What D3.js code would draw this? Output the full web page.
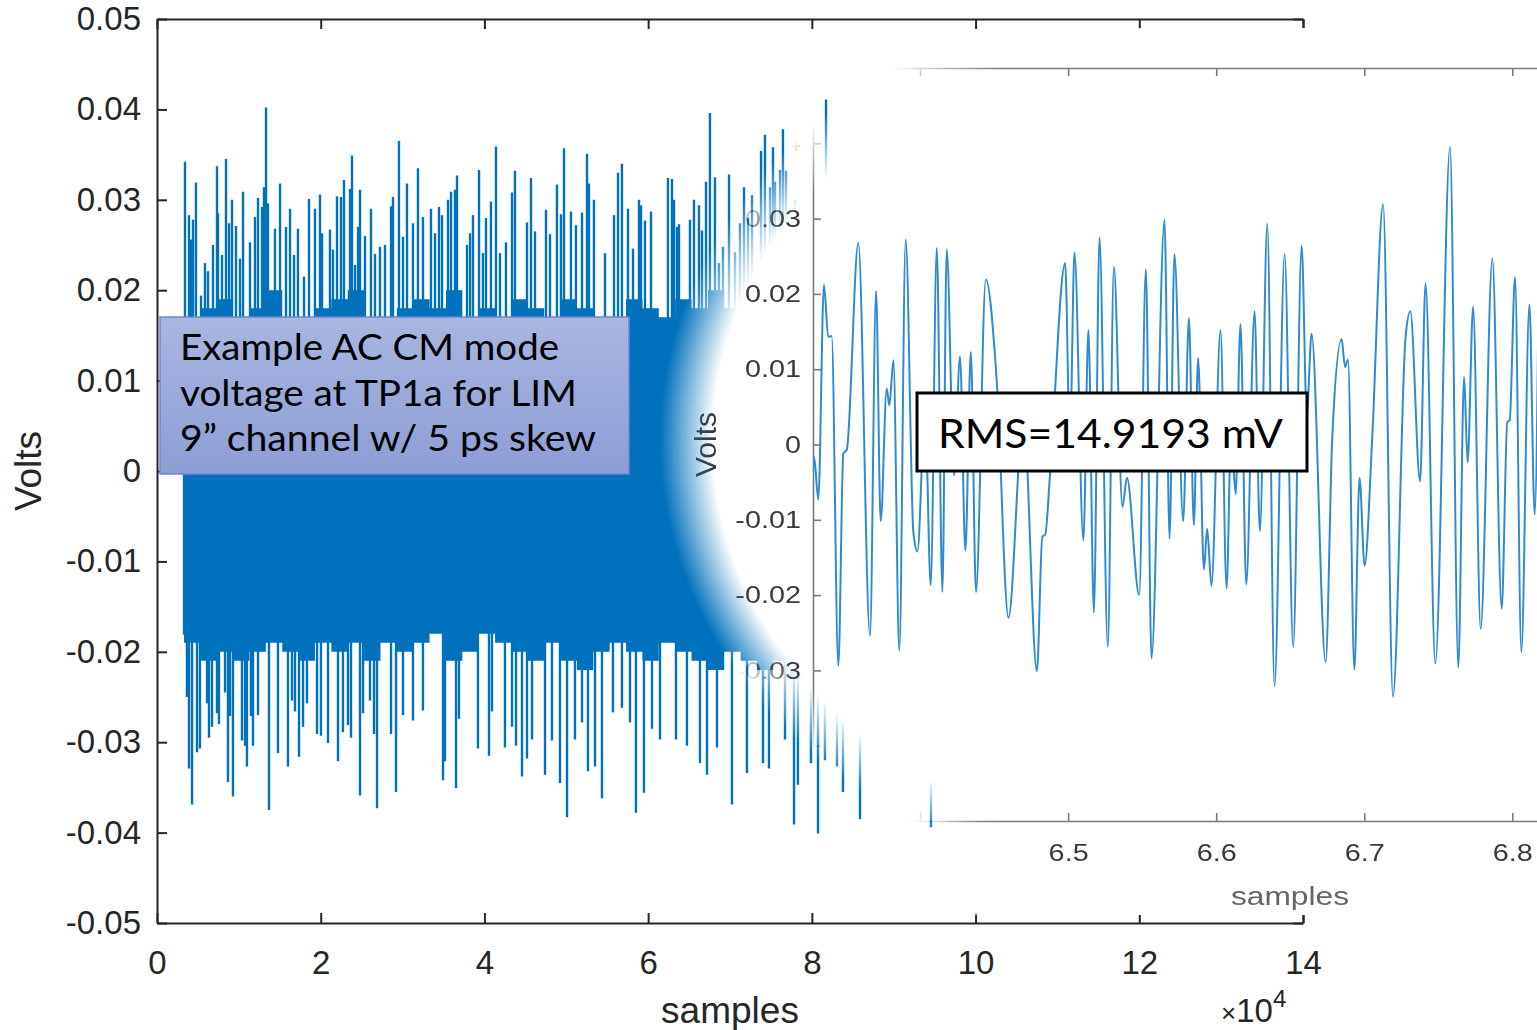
<!DOCTYPE html>
<html>
<head>
<meta charset="utf-8">
<script src="https://cdn.jsdelivr.net/npm/d3@7"></script>
<style>
	body { margin: 0; background: #fff; overflow: hidden; }
	svg { display: block; }
</style>
</head>
<body>
<svg id="chart" width="1537" height="1030"></svg>
<script>
var width = 1537;
var height = 1030;

// axis ticks (x in units of 10^4 samples)
var mainXTicks = [0, 2, 4, 6, 8, 10, 12, 14];
var mainYTicks = [-0.05, -0.04, -0.03, -0.02, -0.01, 0, 0.01, 0.02, 0.03, 0.04, 0.05];
var insetXLimits = [63277, 68180];
var insetXTicks = [64000, 65000, 66000, 67000, 68000];
var insetYTicks = [-0.05, -0.04, -0.03, -0.02, -0.01, 0, 0.01, 0.02, 0.03, 0.04];

// tallest upward spikes [x (x10^4), volts]
var upSpikes = [
	[0.342,0.0342],[0.391,0.0283],[0.415,0.0256],[0.440,0.0278],[0.476,0.0319],[0.538,0.0194],[0.586,0.0230],[0.623,0.0221],
	[0.684,0.0250],[0.733,0.0337],[0.745,0.0285],[0.794,0.0239],[0.843,0.0345],[0.880,0.0274],[0.916,0.0300],[0.965,0.0271],
	[1.014,0.0235],[1.051,0.0309],[1.136,0.0253],[1.197,0.0281],[1.234,0.0302],[1.283,0.0292],[1.307,0.0314],[1.332,0.0402],
	[1.356,0.0296],[1.441,0.0268],[1.503,0.0318],[1.576,0.0270],[1.625,0.0290],[1.674,0.0239],[1.722,0.0268],[1.796,0.0215],
	[1.857,0.0301],[1.930,0.0290],[1.991,0.0306],[2.016,0.0263],[2.113,0.0267],[2.150,0.0245],[2.199,0.0304],[2.248,0.0303],
	[2.284,0.0322],[2.358,0.0312],[2.382,0.0349],[2.419,0.0228],[2.456,0.0270],[2.480,0.0311],[2.541,0.0260],[2.614,0.0290],
	[2.663,0.0240],[2.724,0.0248],[2.785,0.0250],[2.859,0.0293],[2.883,0.0303],[2.956,0.0365],[3.005,0.0259],[3.054,0.0318],
	[3.127,0.0274],[3.188,0.0335],[3.249,0.0281],[3.347,0.0290],[3.396,0.0263],[3.445,0.0292],[3.482,0.0283],[3.555,0.0300],
	[3.592,0.0309],[3.640,0.0311],[3.665,0.0327],[3.787,0.0250],[3.824,0.0263],[3.860,0.0283],[3.934,0.0333],[3.982,0.0241],
	[4.019,0.0280],[4.080,0.0298],[4.141,0.0359],[4.190,0.0241],[4.263,0.0253],[4.337,0.0308],[4.373,0.0332],[4.520,0.0275],
	[4.569,0.0324],[4.618,0.0265],[4.752,0.0289],[4.801,0.0262],[4.886,0.0317],[4.935,0.0284],[4.972,0.0357],[5.057,0.0287],
	[5.118,0.0272],[5.192,0.0286],[5.253,0.0351],[5.277,0.0318],[5.338,0.0300],[5.473,0.0241],[5.583,0.0283],[5.632,0.0330],
	[5.680,0.0340],[5.754,0.0290],[5.815,0.0246],[5.888,0.0300],[5.913,0.0294],[5.961,0.0277],[6.035,0.0287],[6.242,0.0324],
	[6.291,0.0323],[6.316,0.0300],[6.352,0.0270],[6.377,0.0273],[6.511,0.0278],[6.560,0.0300],[6.621,0.0294],[6.658,0.0266],
	[6.707,0.0320],[6.755,0.0396],[6.816,0.0325],[6.865,0.0230],[6.914,0.0248],[6.988,0.0328],[7.061,0.0242],[7.122,0.0274],
	[7.171,0.0314],[7.220,0.0280],[7.269,0.0305],[7.379,0.0354],[7.427,0.0372],[7.489,0.0314],[7.525,0.0358],[7.550,0.0320],
	[7.611,0.0333],[7.647,0.0378],[7.684,0.0332],[7.794,0.0300],[7.916,0.0280],[8.038,0.0310],[8.173,0.0411],[8.282,0.0290],
	[8.466,0.0270],[8.710,0.0300]
];

// tallest downward spikes
var downSpikes = [
	[0.330,-0.0181],[0.366,-0.0250],[0.391,-0.0329],[0.428,-0.0369],[0.489,-0.0311],[0.525,-0.0307],[0.611,-0.0257],[0.635,-0.0295],
	[0.672,-0.0283],[0.733,-0.0268],[0.757,-0.0280],[0.831,-0.0245],[0.867,-0.0344],[0.892,-0.0271],[0.928,-0.0360],[1.038,-0.0298],
	[1.075,-0.0304],[1.099,-0.0327],[1.148,-0.0271],[1.173,-0.0304],[1.234,-0.0270],[1.368,-0.0375],[1.478,-0.0312],[1.600,-0.0327],
	[1.649,-0.0254],[1.686,-0.0266],[1.735,-0.0316],[1.784,-0.0283],[1.832,-0.0257],[1.955,-0.0291],[2.003,-0.0293],[2.089,-0.0301],
	[2.211,-0.0321],[2.272,-0.0289],[2.333,-0.0281],[2.370,-0.0295],[2.480,-0.0359],[2.517,-0.0268],[2.602,-0.0254],[2.651,-0.0291],
	[2.688,-0.0373],[2.859,-0.0291],[2.920,-0.0355],[3.005,-0.0270],[3.127,-0.0276],[3.249,-0.0265],[3.494,-0.0342],[3.518,-0.0321],
	[3.653,-0.0351],[3.689,-0.0274],[3.921,-0.0307],[4.056,-0.0315],[4.092,-0.0266],[4.251,-0.0306],[4.337,-0.0283],[4.386,-0.0304],
	[4.459,-0.0338],[4.520,-0.0318],[4.581,-0.0297],[4.740,-0.0336],[4.825,-0.0298],[4.923,-0.0345],[5.009,-0.0383],[5.106,-0.0297],
	[5.192,-0.0278],[5.265,-0.0332],[5.351,-0.0327],[5.436,-0.0362],[5.570,-0.0267],[5.680,-0.0262],[5.778,-0.0278],[5.851,-0.0378],
	[5.949,-0.0356],[6.047,-0.0285],[6.145,-0.0297],[6.340,-0.0297],[6.474,-0.0304],[6.633,-0.0323],[6.719,-0.0336],[6.841,-0.0306],
	[7.024,-0.0369],[7.207,-0.0334],[7.403,-0.0323],[7.476,-0.0329],[7.672,-0.0297],[7.782,-0.0391],[7.830,-0.0347],[7.989,-0.0323],
	[8.075,-0.0401],[8.160,-0.0320],[8.307,-0.0327],[8.380,-0.0355],[8.588,-0.0385],[9.455,-0.0394]
];

// dense part of the trace: [x, upper, lower]
var denseBand = [
	[0.33,0.017,-0.019],[0.53,0.018,-0.021],[0.73,0.019,-0.020],[0.93,0.017,-0.021],[1.13,0.018,-0.020],[1.33,0.020,-0.019],
	[1.53,0.017,-0.020],[1.73,0.016,-0.021],[1.93,0.018,-0.019],[2.13,0.019,-0.020],[2.33,0.020,-0.019],[2.53,0.017,-0.021],
	[2.73,0.016,-0.019],[2.93,0.018,-0.020],[3.13,0.019,-0.019],[3.33,0.018,-0.018],[3.53,0.020,-0.021],[3.73,0.017,-0.020],
	[3.93,0.018,-0.018],[4.13,0.017,-0.019],[4.33,0.019,-0.020],[4.53,0.018,-0.021],[4.73,0.017,-0.019],[4.93,0.019,-0.021],
	[5.13,0.018,-0.022],[5.33,0.015,-0.020],[5.53,0.016,-0.019],[5.73,0.019,-0.020],[5.93,0.018,-0.021],[6.13,0.017,-0.019],
	[6.33,0.019,-0.020],[6.53,0.018,-0.021],[6.73,0.020,-0.022],[6.93,0.018,-0.020],[7.13,0.019,-0.021],[7.33,0.020,-0.022],
	[7.53,0.021,-0.021],[7.73,0.020,-0.023],[7.93,0.019,-0.022],[8.13,0.018,-0.021],[8.33,0.019,-0.022],[8.53,0.018,-0.021],
	[8.73,0.017,-0.020],[8.93,0.016,-0.019],[9.13,0.016,-0.019]
];

// zoomed trace: [sample, volts] at its turning points
var zoomTrace = [
	[63268,-0.0102],[63284,-0.0016],[63313,-0.0073],[63351,0.0212],[63380,0.0143],[63403,0.0144],[63448,-0.0294],[63482,-0.0012],
	[63505,-0.0007],[63583,0.0268],[63662,-0.0254],[63703,0.0204],[63734,-0.0102],[63775,0.0074],[63793,0.0052],[63820,0.0112],
	[63860,-0.0274],[63903,0.0272],[63955,-0.0117],[63982,-0.0142],[64034,0.0045],[64072,-0.0187],[64113,0.0261],[64151,-0.0196],
	[64180,0.0259],[64230,-0.0041],[64270,0.0117],[64306,-0.0141],[64343,0.0123],[64378,-0.0196],[64444,0.0219],[64518,0.0084],
	[64597,-0.0230],[64698,0.0040],[64789,-0.0301],[64826,-0.0122],[64845,-0.0120],[64878,-0.0039],[64980,0.0241],[65012,0.0000],
	[65043,0.0255],[65103,-0.0127],[65137,0.0152],[65174,-0.0223],[65212,0.0275],[65268,-0.0269],[65309,0.0236],[65367,-0.0083],
	[65397,-0.0044],[65480,-0.0200],[65525,0.0233],[65563,-0.0284],[65651,0.0298],[65685,-0.0125],[65718,0.0253],[65777,-0.0102],
	[65816,0.0168],[65849,-0.0107],[65878,0.0115],[65917,-0.0166],[65939,-0.0112],[65968,-0.0188],[66029,0.0152],[66070,-0.0191],
	[66101,0.0020],[66131,-0.0066],[66164,0.0160],[66203,-0.0186],[66259,0.0177],[66295,-0.0115],[66345,0.0293],[66394,-0.0321],
	[66462,0.0253],[66520,-0.0269],[66577,0.0264],[66612,0.0040],[66644,0.0147],[66739,-0.0289],[66784,0.0010],[66847,0.0140],
	[66870,0.0103],[66890,0.0113],[66933,-0.0299],[66968,-0.0044],[67002,-0.0161],[67054,0.0010],[67127,0.0319],[67194,-0.0335],
	[67279,0.0143],[67311,0.0177],[67377,-0.0049],[67414,0.0214],[67480,-0.0291],[67579,0.0395],[67635,-0.0296],[67674,0.0090],
	[67698,-0.0024],[67735,0.0183],[67786,-0.0245],[67865,0.0247],[67928,-0.0218],[67966,0.0030],[67982,0.0032],[68018,0.0222],
	[68061,-0.0276],[68115,0.0186],[68151,-0.0093],[68181,0.0270]
];

var noteLines = ["Example AC CM mode", "voltage at TP1a for LIM", "9\u201D channel w/ 5 ps skew"];
var rmsLabel = "RMS=14.9193 mV";

var blue = "#0072bd";
var axisInk = "#262626";
var mainFont = "'Liberation Sans', Arial, sans-serif";

var svg = d3.select("#chart");
var defs = svg.append("defs");

// main plot scales
var x = d3.scaleLinear().domain([0, 14]).range([157, 1303]);
var y = d3.scaleLinear().domain([-0.05, 0.05]).range([923, 19]);

function voltFmt(d) {
	if (Math.abs(d) < 1e-9) return "0";
	return (d < 0 ? "-" : "") + Math.abs(d).toFixed(2);
}

function styleAxis(g, ink, w) {
	g.select(".domain").attr("stroke", ink).attr("stroke-width", w);
	g.selectAll(".tick line").attr("stroke", ink).attr("stroke-width", w);
}

// ---- main signal
var sig = svg.append("g");

var band = d3.area()
	.curve(d3.curveStepAfter)
	.x(function(d) { return x(d[0]); })
	.y0(function(d) { return y(d[2]); })
	.y1(function(d) { return y(d[1]); });

sig.append("path")
	.datum(denseBand)
	.attr("d", band)
	.attr("fill", blue);

sig.selectAll(".spike")
	.data(upSpikes.concat(downSpikes))
	.enter()
	.append("line")
		.attr("class", "spike")
		.attr("x1", function(d) { return x(d[0]); })
		.attr("x2", function(d) { return x(d[0]); })
		.attr("y1", y(0))
		.attr("y2", function(d) { return y(d[1]); })
		.attr("stroke", blue)
		.attr("stroke-width", 2.4);

// ---- main axes
var gBottom = svg.append("g")
	.attr("transform", "translate(0," + y(-0.05) + ")")
	.call(d3.axisBottom(x).tickValues(mainXTicks).tickSizeInner(-10).tickSizeOuter(0).tickPadding(28).tickFormat(d3.format("d")));
var gTop = svg.append("g")
	.attr("transform", "translate(0," + y(0.05) + ")")
	.call(d3.axisTop(x).tickValues(mainXTicks).tickSizeInner(-10).tickSizeOuter(0).tickFormat(function() { return ""; }));
var gLeft = svg.append("g")
	.attr("transform", "translate(" + x(0) + ",0)")
	.call(d3.axisLeft(y).tickValues(mainYTicks).tickSizeInner(-10).tickSizeOuter(0).tickPadding(16).tickFormat(voltFmt));
var gRight = svg.append("g")
	.attr("transform", "translate(" + x(14) + ",0)")
	.call(d3.axisRight(y).tickValues(mainYTicks).tickSizeInner(-10).tickSizeOuter(0).tickFormat(function() { return ""; }));

[gBottom, gTop, gLeft, gRight].forEach(function(g) {
	styleAxis(g, axisInk, 2);
	g.selectAll("text").attr("fill", axisInk).style("font-family", mainFont).style("font-size", "33px");
});

svg.append("text")
	.attr("transform", "translate(28," + y(0) + ") rotate(-90)")
	.attr("text-anchor", "middle")
	.attr("dy", "0.35em")
	.attr("fill", axisInk)
	.style("font-family", mainFont).style("font-size", "37px")
	.text("Volts");

svg.append("text")
	.attr("x", (x(0) + x(14)) / 2)
	.attr("y", 1023)
	.attr("text-anchor", "middle")
	.attr("fill", axisInk)
	.style("font-family", mainFont).style("font-size", "37px")
	.text("samples");

var expo = svg.append("text")
	.attr("x", 1221)
	.attr("y", 1022)
	.attr("fill", axisInk)
	.style("font-family", mainFont).style("font-size", "33px");
expo.append("tspan").style("font-size", "26px").text("\u00D7");
expo.append("tspan").text("10");
expo.append("tspan").attr("dy", -15).style("font-size", "24px").text("4");

// ---- zoomed inset with a soft elliptical left edge
var fade = { cx: 1190, cy: 440, rx: 530, ry: 450 };

var grad = defs.append("radialGradient").attr("id", "fadeGrad");
grad.append("stop").attr("offset", "0").attr("stop-color", "#fff");
grad.append("stop").attr("offset", "0.9").attr("stop-color", "#fff");
grad.append("stop").attr("offset", "1").attr("stop-color", "#fff").attr("stop-opacity", 0);

var lowGrad = defs.append("linearGradient").attr("id", "lowGrad")
	.attr("x1", 0).attr("y1", 0).attr("x2", 1).attr("y2", 0);
lowGrad.append("stop").attr("offset", "0").attr("stop-color", "#fff").attr("stop-opacity", 0);
lowGrad.append("stop").attr("offset", "0.24").attr("stop-color", "#fff");
lowGrad.append("stop").attr("offset", "1").attr("stop-color", "#fff");

var mask = defs.append("mask").attr("id", "insetMask")
	.attr("maskUnits", "userSpaceOnUse")
	.attr("x", 0).attr("y", 0).attr("width", width).attr("height", height);
mask.append("rect")
	.attr("x", fade.cx - fade.rx).attr("y", fade.cy - fade.ry)
	.attr("width", 2 * fade.rx).attr("height", 2 * fade.ry)
	.attr("fill", "url(#fadeGrad)");
mask.append("rect")
	.attr("x", 938).attr("y", fade.cy)
	.attr("width", fade.cx - 938).attr("height", height - fade.cy)
	.attr("fill", "url(#lowGrad)");
mask.append("rect")
	.attr("x", fade.cx).attr("y", 0)
	.attr("width", width - fade.cx).attr("height", height)
	.attr("fill", "#fff");

defs.append("clipPath").attr("id", "insetClip")
	.append("rect").attr("x", 560).attr("y", 28).attr("width", width - 560).attr("height", 887);

var xi = d3.scaleLinear().domain(insetXLimits).range([813, 1539]);
var yi = d3.scaleLinear().domain([-0.05, 0.05]).range([821, 68]);

defs.append("clipPath").attr("id", "insetPlot")
	.append("rect").attr("x", xi.range()[0]).attr("y", yi.range()[1])
	.attr("width", xi.range()[1] - xi.range()[0]).attr("height", yi.range()[0] - yi.range()[1]);

var inset = svg.append("g")
	.attr("clip-path", "url(#insetClip)")
	.attr("mask", "url(#insetMask)");

inset.append("rect")
	.attr("x", 560).attr("y", 0).attr("width", width - 560).attr("height", height)
	.attr("fill", "#fff");

var insetInk = "#7a7a7a";
var insetText = "#3a3a3a";

var iBottom = inset.append("g")
	.attr("transform", "translate(0," + yi(-0.05) + ")")
	.call(d3.axisBottom(xi).tickValues(insetXTicks).tickSizeInner(-8).tickSizeOuter(0).tickPadding(23)
		.tickFormat(function(d) { return (d / 10000).toFixed(1); }));
var iTop = inset.append("g")
	.attr("transform", "translate(0," + yi(0.05) + ")")
	.call(d3.axisTop(xi).tickValues(insetXTicks).tickSizeInner(-8).tickSizeOuter(0).tickFormat(function() { return ""; }));
var iLeft = inset.append("g")
	.attr("transform", "translate(" + xi(insetXLimits[0]) + ",0)")
	.call(d3.axisLeft(yi).tickValues(insetYTicks).tickSizeInner(-8).tickSizeOuter(0).tickPadding(12).tickFormat(voltFmt));

[iBottom, iTop, iLeft].forEach(function(g) {
	styleAxis(g, insetInk, 1.6);
	g.selectAll("text")
		.attr("fill", insetText)
		.style("font-family", mainFont).style("font-size", "24px")
		.attr("lengthAdjust", "spacingAndGlyphs")
		.attr("textLength", function() { return this.getComputedTextLength() * 1.2; });
});

var zoomLine = d3.line()
	.curve(d3.curveMonotoneX)
	.x(function(d) { return xi(d[0]); })
	.y(function(d) { return yi(d[1]); });

inset.append("path")
	.datum(zoomTrace)
	.attr("clip-path", "url(#insetPlot)")
	.attr("d", zoomLine)
	.attr("fill", "none")
	.attr("stroke", "#2f8bd0")
	.attr("stroke-width", 2);

inset.append("text")
	.attr("transform", "translate(705," + yi(0) + ") rotate(-90)")
	.attr("text-anchor", "middle")
	.attr("dy", "0.35em")
	.attr("fill", insetText)
	.style("font-family", mainFont).style("font-size", "30px")
	.text("Volts");

inset.append("text")
	.attr("x", 1290)
	.attr("y", 905)
	.attr("text-anchor", "middle")
	.attr("fill", "#666")
	.style("font-family", mainFont).style("font-size", "26px")
	.attr("lengthAdjust", "spacingAndGlyphs")
	.attr("textLength", 118)
	.text("samples");

// ---- annotation box
var noteGrad = defs.append("linearGradient").attr("id", "noteGrad")
	.attr("x1", 0).attr("y1", 0).attr("x2", 0).attr("y2", 1);
noteGrad.append("stop").attr("offset", "0").attr("stop-color", "#a9b6e1");
noteGrad.append("stop").attr("offset", "1").attr("stop-color", "#8d9ed6");

var note = svg.append("g");
note.append("rect")
	.attr("x", 160).attr("y", 317).attr("width", 469).attr("height", 157)
	.attr("fill", "url(#noteGrad)")
	.attr("stroke", "#6c88cb").attr("stroke-width", 1.5);

var noteWidths = [379, 397, 416];
note.selectAll(".note")
	.data(noteLines)
	.enter()
	.append("text")
		.attr("x", 180)
		.attr("y", function(d, i) { return 360 + i * 45.7; })
		.attr("fill", "#000")
		.style("font-family", "Lato, 'Open Sans', sans-serif").style("font-size", "36px")
		.attr("lengthAdjust", "spacingAndGlyphs")
		.attr("textLength", function(d, i) { return noteWidths[i]; })
		.text(function(d) { return d; });

// ---- RMS box
svg.append("rect")
	.attr("x", 917).attr("y", 393).attr("width", 390).attr("height", 78)
	.attr("fill", "#fff")
	.attr("stroke", "#000").attr("stroke-width", 3);
svg.append("text")
	.attr("x", 938).attr("y", 448)
	.attr("fill", "#000")
	.style("font-family", "Lato, 'Open Sans', sans-serif").style("font-size", "41px")
	.attr("lengthAdjust", "spacingAndGlyphs")
	.attr("textLength", 345)
	.text(rmsLabel);
</script>
</body>
</html>
